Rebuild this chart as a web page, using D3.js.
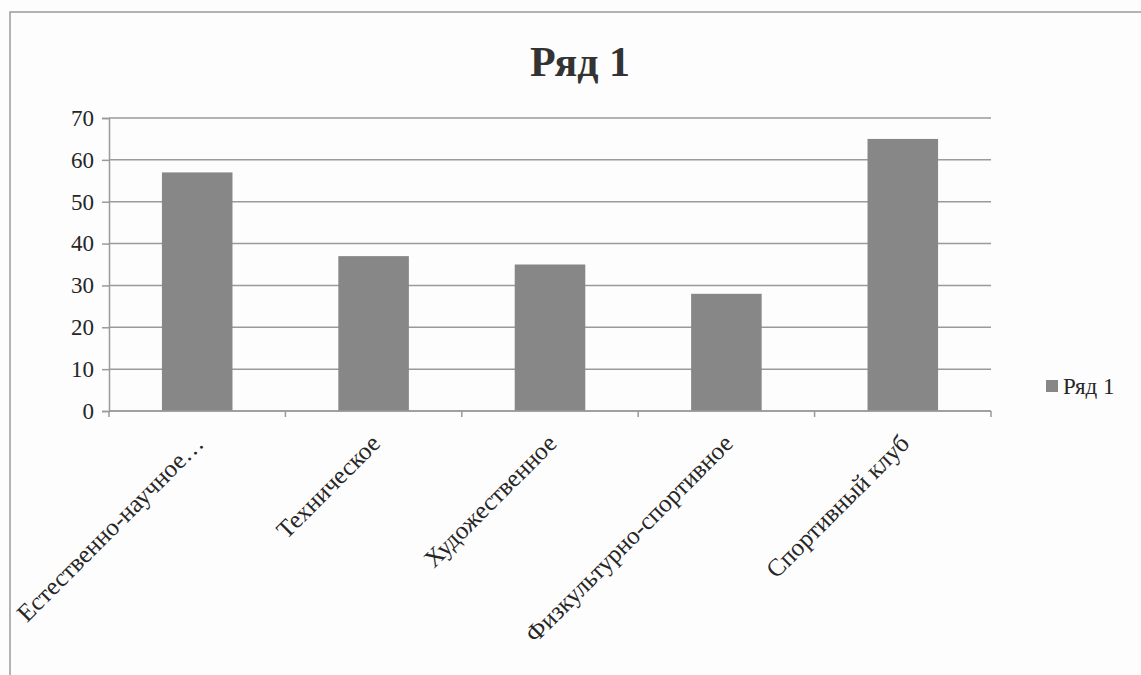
<!DOCTYPE html>
<html>
<head>
<meta charset="utf-8">
<script src="https://cdn.jsdelivr.net/npm/d3@7"></script>
<style>
  html, body { margin: 0; padding: 0; background: #fdfdfd; }
  svg { display: block; font-family: "Liberation Serif", "DejaVu Serif", serif; }
</style>
</head>
<body>
<div id="chart"></div>
<script>
// Chart data
const categories = ['Естественно-научное…', 'Техническое', 'Художественное', 'Физкультурно-спортивное', 'Спортивный клуб']
const values = [57, 37, 35, 28, 65]
const yTicks = [0, 10, 20, 30, 40, 50, 60, 70]
const seriesName = 'Ряд 1'

const width = 1141
const height = 675
const margin = { top: 118, right: 150, bottom: 264, left: 109 }
const innerW = width - margin.left - margin.right
const innerH = height - margin.top - margin.bottom

const lineColor = '#9a9a9a'
const barColor = '#878787'
const textColor = '#262626'

const svg = d3.select('#chart').append('svg')
  .attr('width', width)
  .attr('height', height)

// Chart area border (scan shows only top and left edges)
svg.append('path')
  .attr('d', `M10,${height} L10,12 L${width},12`)
  .attr('fill', 'none')
  .attr('stroke', lineColor)
  .attr('stroke-width', 1.5)

// Title
svg.append('text')
  .attr('x', 580).attr('y', 76)
  .attr('text-anchor', 'middle')
  .attr('fill', '#333')
  .style('font-size', '42px')
  .style('font-weight', 'bold')
  .text(seriesName)

const g = svg.append('g').attr('transform', `translate(${margin.left},${margin.top})`)

const x = d3.scaleBand()
  .domain(categories)
  .range([0, innerW])
  .paddingInner(0.6)
  .paddingOuter(0.3)

const y = d3.scaleLinear().domain([0, 70]).range([innerH, 0])

// Horizontal gridlines
g.append('g')
  .selectAll('line')
  .data(yTicks)
  .join('line')
  .attr('x1', 0).attr('x2', innerW)
  .attr('y1', d => y(d)).attr('y2', d => y(d))
  .attr('stroke', lineColor)
  .attr('stroke-width', 1.5)

// Y axis
const yAxis = g.append('g')
  .call(d3.axisLeft(y).tickValues(yTicks).tickSize(7).tickPadding(8))
yAxis.select('.domain').attr('stroke', lineColor).attr('stroke-width', 1.5)
yAxis.selectAll('.tick line').attr('stroke', lineColor).attr('stroke-width', 1.5)
yAxis.selectAll('.tick text')
  .attr('fill', textColor)
  .style('font-size', '23px')
  .style('font-family', '"Liberation Serif", serif')

// Bars
g.append('g')
  .selectAll('rect')
  .data(values)
  .join('rect')
  .attr('x', (d, i) => x(categories[i]))
  .attr('y', d => y(d))
  .attr('width', x.bandwidth())
  .attr('height', d => innerH - y(d))
  .attr('fill', barColor)

// X axis baseline with ticks at band boundaries
const step = x.step()
const bounds = d3.range(categories.length + 1).map(i => i * step)
g.append('line')
  .attr('x1', 0).attr('x2', innerW)
  .attr('y1', innerH).attr('y2', innerH)
  .attr('stroke', lineColor)
  .attr('stroke-width', 1.5)
g.append('g')
  .selectAll('line')
  .data(bounds)
  .join('line')
  .attr('x1', d => d).attr('x2', d => d)
  .attr('y1', innerH).attr('y2', innerH + 6)
  .attr('stroke', lineColor)
  .attr('stroke-width', 1.5)

// Rotated category labels
g.append('g')
  .selectAll('text')
  .data(categories)
  .join('text')
  .attr('transform', d => `translate(${x(d) + x.bandwidth() / 2 + 8},${innerH + 34}) rotate(-45)`)
  .attr('text-anchor', 'end')
  .attr('fill', textColor)
  .style('font-size', '25px')
  .text(d => d)

// Legend
const legend = svg.append('g').attr('transform', 'translate(1046,380)')
legend.append('rect').attr('width', 12).attr('height', 12).attr('fill', barColor)
legend.append('text')
  .attr('x', 17).attr('y', 14)
  .attr('fill', textColor)
  .style('font-size', '23px')
  .text(seriesName)
</script>
</body>
</html>
